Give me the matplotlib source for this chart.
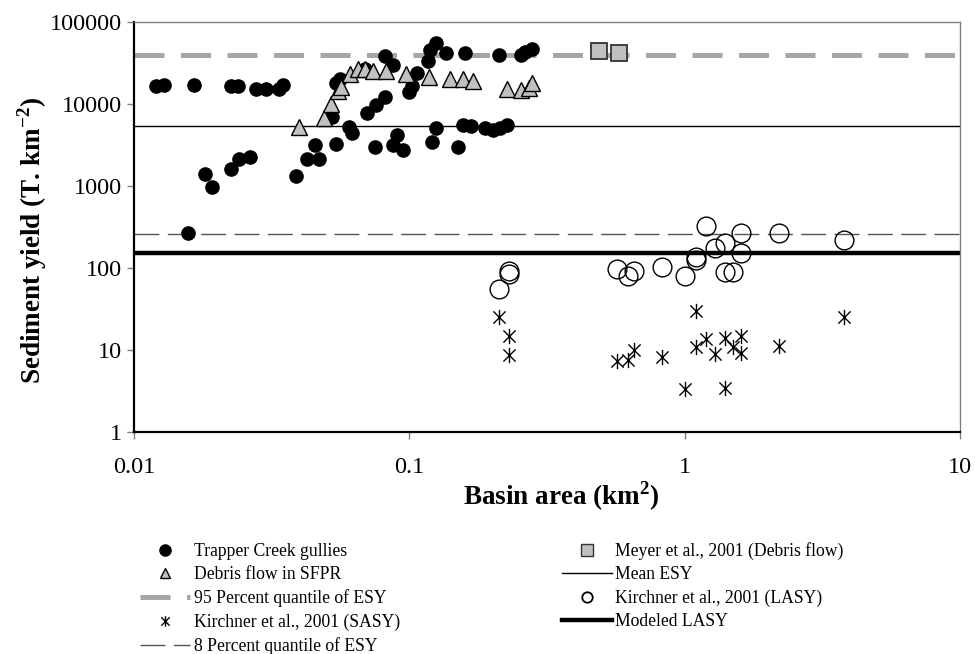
import numpy as np
import matplotlib
matplotlib.use('Agg')
from matplotlib import pyplot as plt
from matplotlib.lines import Line2D
from matplotlib.path import Path
from matplotlib.ticker import FixedLocator, FixedFormatter, NullLocator

plt.rcParams['font.family'] = ['Liberation Serif', 'DejaVu Serif']
plt.rcParams['mathtext.fontset'] = 'custom'
plt.rcParams['mathtext.rm'] = 'Liberation Serif:bold'
plt.rcParams['mathtext.bf'] = 'Liberation Serif:bold'

# Trapper Creek gullies
trapper_area = [0.0120, 0.0128, 0.0165, 0.0225, 0.0238, 0.0277, 0.0301, 0.0336, 0.0347,
                0.0181, 0.0192, 0.0157, 0.0226, 0.0240, 0.0264, 0.0388, 0.0425, 0.0469,
                0.0454, 0.0523, 0.0541, 0.0602, 0.0618, 0.0540, 0.0558, 0.0700, 0.0755,
                0.0813, 0.0748, 0.0813, 0.0869, 0.0875, 0.0900, 0.0947, 0.1000, 0.1025,
                0.1070, 0.1245, 0.1186, 0.1165, 0.1355, 0.1588, 0.2110, 0.2535, 0.2640,
                0.2780, 0.1255, 0.1205, 0.1500, 0.1570, 0.1670, 0.1890, 0.2005, 0.2140,
                0.2255, 0.0693]
trapper_sy = [16600, 16900, 16900, 16500, 16500, 15200, 15200, 15200, 16900,
              1400, 970, 267, 1610, 2130, 2260, 1320, 2130, 2130,
              3160, 6940, 3250, 5250, 4430, 18000, 20200, 7770, 9730,
              12200, 2990, 39000, 29900, 3160, 4190, 2750, 14000, 16600,
              23900, 55400, 45600, 33500, 41900, 41900, 39600, 39600, 43000,
              46900, 5090, 3440, 2990, 5540, 5400, 5090, 4800, 5090,
              5540, 27000]

# Debris flow in SFPR
sfpr_area = [0.0397, 0.0489, 0.0518, 0.0549, 0.0567, 0.0607, 0.0649, 0.0693, 0.0736, 0.0820,
             0.0970, 0.1175, 0.1400, 0.1560, 0.1710, 0.2255, 0.2550, 0.2710, 0.2800]
sfpr_sy = [5300, 6750, 10000, 14400, 16100, 23200, 26700, 26700, 25300, 25300,
           23200, 21300, 20200, 20200, 19100, 15200, 14800, 15600, 18000]

# Meyer et al., 2001 (Debris flow)
meyer_area = [0.490, 0.579]
meyer_sy = [44300, 41900]

# Kirchner et al., 2001 (LASY)
lasy_area = [0.231, 0.231, 0.211, 0.569, 0.625, 0.652, 0.830, 1.00, 1.10, 1.10,
             1.197, 1.29, 1.40, 1.40, 1.50, 1.60, 1.60, 2.20, 3.79]
lasy_sy = [91.9, 84, 55.4, 97, 79.8, 92, 103, 80, 125, 136,
           325, 175, 202, 89, 89, 267, 152, 267, 219]

# Kirchner et al., 2001 (SASY)
sasy_area = [0.211, 0.231, 0.231, 0.569, 0.625, 0.652, 0.830, 1.00, 1.10, 1.10,
             1.197, 1.29, 1.40, 1.40, 1.50, 1.60, 1.60, 2.20, 3.79]
sasy_sy = [25.3, 14.8, 8.7, 7.35, 7.5, 10, 8.2, 3.35, 29.9, 10.9,
           13.6, 8.9, 14, 3.44, 10.9, 14.8, 9.1, 11.1, 25.3]

# reference levels
q95_esy = 40000
mean_esy = 5400
q8_esy = 260
modeled_lasy = 152

x_ticks = [0.01, 0.1, 1, 10]
x_tick_labels = ['0.01', '0.1', '1', '10']
y_ticks = [1, 10, 100, 1000, 10000, 100000]
y_tick_labels = ['1', '10', '100', '1000', '10000', '100000']

# asterisk marker: an x with a vertical bar
star = Path([(-1, -1), (1, 1), (-1, 1), (1, -1), (0, -1.25), (0, 1.25)],
            [Path.MOVETO, Path.LINETO, Path.MOVETO, Path.LINETO, Path.MOVETO, Path.LINETO])

grey = '#a6a6a6'
fill = '#c0c0c0'
q95_style = (0, (6, 3.3))
q8_style = (0, (18, 6))

fig = plt.figure(figsize=(9.75, 6.54), dpi=100)
ax = fig.add_axes([134 / 975, 1 - 432 / 654, (960 - 134) / 975, (432 - 22) / 654])

# reference lines
ax.axhline(q95_esy, color=grey, lw=3.6, ls=q95_style, zorder=1)
ax.axhline(mean_esy, color='black', lw=1.0, zorder=1)
ax.axhline(q8_esy, color='#555555', lw=1.0, ls=q8_style, zorder=1)
ax.axhline(modeled_lasy, color='black', lw=3.2, zorder=1)

# points
ax.plot(trapper_area, trapper_sy, 'o', color='black', ms=9.5, ls='none', zorder=3)
ax.plot(sfpr_area, sfpr_sy, '^', mfc=fill, mec='black', mew=1.0, ms=11, ls='none', zorder=4)
ax.plot(meyer_area, meyer_sy, 's', mfc=fill, mec='#333333', mew=1.3, ms=11, ls='none', zorder=4)
ax.plot(lasy_area, lasy_sy, 'o', mfc='none', mec='black', mew=1.0, ms=13.5, ls='none', zorder=3)
ax.plot(sasy_area, sasy_sy, marker=star, color='black', mew=1.0, ms=11, ls='none', zorder=3)

ax.set_xscale('log')
ax.set_yscale('log')
ax.set_xlim(0.01, 10)
ax.set_ylim(1, 100000)
ax.xaxis.set_major_locator(FixedLocator(x_ticks))
ax.xaxis.set_major_formatter(FixedFormatter(x_tick_labels))
ax.yaxis.set_major_locator(FixedLocator(y_ticks))
ax.yaxis.set_major_formatter(FixedFormatter(y_tick_labels))
ax.xaxis.set_minor_locator(NullLocator())
ax.yaxis.set_minor_locator(NullLocator())
ax.tick_params(axis='both', direction='out', length=5, width=1, color='#808080', labelsize=17.5)
ax.tick_params(axis='x', pad=13)
ax.tick_params(axis='y', pad=4)

for side in ['left', 'bottom']:
    ax.spines[side].set_color('black')
    ax.spines[side].set_linewidth(1.6)
for side in ['top', 'right']:
    ax.spines[side].set_color('#808080')
    ax.spines[side].set_linewidth(1.0)

ax.set_xlabel('Basin area (km$^{2}$)', fontsize=19.5, fontweight='bold', labelpad=1)
ax.set_ylabel('Sediment yield (T. km$^{-2}$)', fontsize=19.5, fontweight='bold', labelpad=0)
ax.xaxis.label.set_x(0.517)
ax.yaxis.label.set_y(0.468)

# legend with smaller proxy markers
handles = [
    Line2D([], [], marker='o', color='black', ls='none', ms=8),
    Line2D([], [], marker='^', mfc=fill, mec='black', ls='none', ms=7.5),
    Line2D([], [], color=grey, lw=3.6, ls=q95_style),
    Line2D([], [], marker=star, color='black', ls='none', ms=7.5),
    Line2D([], [], color='#555555', lw=1.0, ls=q8_style),
    Line2D([], [], marker='s', mfc=fill, mec='#333333', ls='none', ms=8.5),
    Line2D([], [], color='black', lw=1.0),
    Line2D([], [], marker='o', mfc='none', mec='black', mew=1.3, ls='none', ms=7.5),
    Line2D([], [], color='black', lw=3.2),
]
labels = ['Trapper Creek gullies', 'Debris flow in SFPR', '95 Percent quantile of ESY',
          'Kirchner et al., 2001 (SASY)', '8 Percent quantile of ESY',
          'Meyer et al., 2001 (Debris flow)', 'Mean ESY', 'Kirchner et al., 2001 (LASY)',
          'Modeled LASY']
fig.legend(handles, labels, ncol=2, loc='upper left', bbox_to_anchor=(140 / 975, 1 - 542 / 654),
           frameon=False, fontsize=12.7, handlelength=2.85, handletextpad=0.2,
           labelspacing=0.36, columnspacing=9.17, borderpad=0, borderaxespad=0)

plt.savefig('out.png', dpi=100)
